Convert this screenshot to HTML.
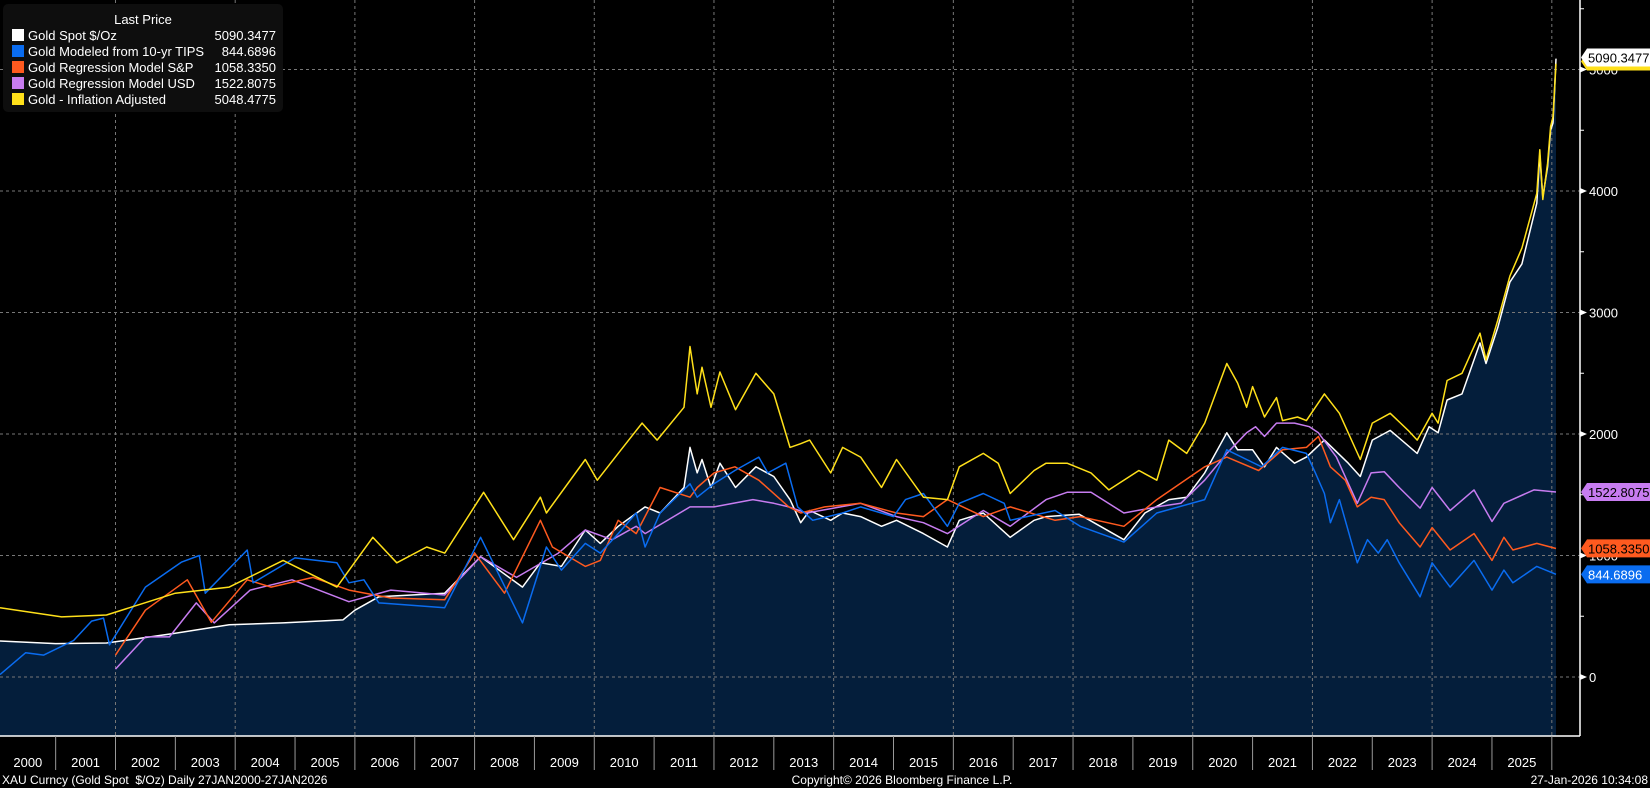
<!DOCTYPE html>
<html><head><meta charset="utf-8">
<style>
html,body{margin:0;padding:0;background:#000;width:1650px;height:788px;overflow:hidden;font-family:"Liberation Sans",sans-serif}
svg{display:block}
</style></head>
<body>
<svg id="chart" width="1650" height="788" viewBox="0 0 1650 788" xmlns="http://www.w3.org/2000/svg" font-family="Liberation Sans, sans-serif">
<rect x="0" y="0" width="1650" height="788" fill="#000"/>
<g id="fill"></g><g id="grid"></g><g id="lines"></g><g id="axes"></g><g id="tags"></g>
<g id="legend">
<rect x="3" y="4" width="280" height="108" rx="5" fill="#0e0e0e"/>
<text x="143" y="24" fill="#fff" font-size="13" text-anchor="middle">Last Price</text>
</g>
<text x="2" y="784" fill="#fff" font-size="12">XAU Curncy (Gold Spot&#160;&#160;$/Oz) Daily 27JAN2000-27JAN2026</text>
<text x="902" y="784" fill="#fff" font-size="12" text-anchor="middle">Copyright© 2026 Bloomberg Finance L.P.</text>
<text x="1648" y="784" fill="#fff" font-size="12" text-anchor="end">27-Jan-2026 10:34:08</text>
</svg>
<script>
const NS='http://www.w3.org/2000/svg';
const spotDates=[2000.07,2001.0,2001.85,2003.0,2003.9,2004.8,2005.8,2006.0,2006.4,2007.5,2008.1,2008.8,2009.1,2009.45,2009.85,2010.1,2010.4,2010.85,2011.1,2011.5,2011.6,2011.72,2011.8,2011.95,2012.1,2012.36,2012.7,2013.0,2013.27,2013.45,2013.6,2013.95,2014.15,2014.45,2014.8,2015.05,2015.5,2015.9,2016.1,2016.5,2016.95,2017.35,2017.55,2018.1,2018.85,2019.2,2019.6,2019.9,2020.2,2020.57,2020.75,2021.0,2021.2,2021.4,2021.7,2021.9,2022.2,2022.6,2022.8,2023.0,2023.3,2023.75,2023.95,2024.1,2024.25,2024.5,2024.8,2024.9,2025.1,2025.3,2025.5,2025.75,2025.8,2025.85,2025.93,2025.98,2026.02,2026.07];
const spotValues=[296,275,280,360,430,445,470,550,660,690,990,740,940,910,1210,1100,1240,1400,1350,1560,1890,1680,1790,1560,1760,1560,1730,1650,1460,1270,1370,1290,1350,1320,1240,1290,1180,1070,1290,1350,1150,1290,1320,1340,1130,1350,1460,1480,1680,2010,1870,1870,1730,1890,1760,1810,1950,1760,1650,1950,2030,1840,2060,2010,2280,2330,2750,2580,2880,3250,3400,3900,4300,3950,4200,4500,4560,5090];
const tipsDates=[2000.07,2000.5,2000.8,2001.3,2001.6,2001.8,2001.9,2002.5,2003.1,2003.4,2003.5,2004.2,2004.3,2005.0,2005.7,2005.9,2006.15,2006.4,2007.5,2008.1,2008.8,2009.2,2009.45,2009.85,2010.1,2010.4,2010.7,2010.85,2011.1,2011.6,2011.72,2012.0,2012.35,2012.75,2012.9,2013.2,2013.4,2013.65,2014.15,2014.45,2015.0,2015.2,2015.5,2015.9,2016.1,2016.5,2016.85,2016.95,2017.7,2018.12,2018.85,2019.4,2020.2,2020.57,2020.9,2021.15,2021.5,2021.9,2022.05,2022.2,2022.3,2022.45,2022.75,2022.92,2023.1,2023.25,2023.45,2023.8,2024.0,2024.3,2024.7,2025.0,2025.2,2025.35,2025.75,2026.07];
const tipsValues=[20,200,180,300,460,485,265,740,945,1000,690,1045,775,980,940,775,800,610,570,1150,445,1070,880,1100,1020,1180,1350,1070,1350,1590,1480,1590,1700,1810,1680,1760,1400,1290,1350,1400,1320,1460,1510,1240,1430,1510,1430,1290,1370,1240,1110,1350,1460,1870,1790,1730,1890,1840,1680,1510,1270,1460,940,1130,1020,1130,940,660,940,740,960,715,880,775,910,845];
const spxDates=[2002.0,2002.5,2003.2,2003.6,2004.2,2004.6,2005.3,2005.9,2006.6,2007.5,2008.0,2008.5,2009.1,2009.3,2009.85,2010.1,2010.4,2010.7,2011.1,2011.6,2011.72,2012.0,2012.35,2012.75,2013.25,2013.45,2013.85,2014.45,2015.05,2015.5,2015.9,2016.5,2016.95,2017.7,2018.12,2018.85,2019.4,2020.2,2020.57,2021.1,2021.5,2021.9,2022.1,2022.3,2022.55,2022.75,2022.98,2023.2,2023.45,2023.8,2024.0,2024.3,2024.7,2025.0,2025.2,2025.35,2025.75,2026.07];
const spxValues=[180,550,800,450,800,740,820,715,650,635,1020,690,1290,1070,910,960,1290,1180,1560,1480,1560,1680,1730,1620,1400,1350,1400,1430,1350,1320,1460,1320,1400,1290,1320,1240,1460,1730,1810,1700,1870,1890,1980,1730,1620,1400,1480,1460,1270,1070,1230,1045,1180,960,1150,1045,1100,1058];
const usdDates=[2002.0,2002.5,2002.9,2003.35,2003.65,2004.25,2004.95,2005.9,2006.6,2007.5,2008.1,2008.7,2009.4,2009.85,2010.3,2010.7,2010.85,2011.6,2012.0,2012.65,2013.0,2013.25,2013.55,2014.45,2015.05,2015.5,2015.9,2016.5,2016.95,2017.55,2017.9,2018.3,2018.85,2019.4,2019.8,2020.2,2020.57,2020.9,2021.05,2021.2,2021.4,2021.7,2021.95,2022.1,2022.4,2022.75,2022.98,2023.2,2023.45,2023.8,2024.0,2024.3,2024.7,2025.0,2025.2,2025.7,2026.07];
const usdValues=[65,330,330,610,445,715,800,620,715,675,990,820,1020,1210,1130,1240,1180,1400,1400,1460,1430,1400,1350,1430,1320,1270,1180,1370,1240,1460,1520,1520,1350,1400,1430,1620,1840,2010,2060,1980,2090,2090,2060,2010,1810,1430,1680,1690,1560,1390,1560,1370,1540,1280,1430,1540,1523];
const inflDates=[2000.07,2001.1,2001.85,2003.0,2003.9,2004.8,2005.7,2006.3,2006.7,2007.2,2007.5,2008.15,2008.65,2009.1,2009.2,2009.85,2010.05,2010.4,2010.8,2011.05,2011.5,2011.6,2011.72,2011.8,2011.95,2012.1,2012.36,2012.7,2013.0,2013.27,2013.45,2013.6,2013.95,2014.15,2014.45,2014.8,2015.05,2015.5,2015.9,2016.1,2016.5,2016.75,2016.95,2017.35,2017.55,2017.9,2018.3,2018.6,2019.1,2019.4,2019.6,2019.9,2020.2,2020.57,2020.75,2020.9,2021.0,2021.2,2021.4,2021.5,2021.75,2021.9,2022.2,2022.45,2022.8,2023.0,2023.3,2023.6,2023.75,2024.0,2024.1,2024.25,2024.5,2024.8,2024.9,2025.1,2025.3,2025.5,2025.75,2025.8,2025.85,2025.93,2025.98,2026.02,2026.07];
const inflValues=[570,495,510,690,740,960,740,1150,940,1070,1020,1520,1130,1480,1350,1790,1620,1840,2090,1950,2220,2720,2330,2550,2220,2510,2200,2500,2330,1890,1920,1950,1680,1890,1810,1560,1790,1480,1460,1730,1840,1760,1510,1700,1760,1760,1680,1540,1700,1620,1950,1840,2090,2580,2420,2220,2390,2140,2300,2110,2140,2110,2330,2170,1790,2090,2170,2030,1950,2170,2090,2440,2500,2830,2610,2940,3300,3530,3980,4340,3930,4230,4530,4610,5048];

const X0=0,X1=1556,T0=2000.07,T1=2026.07,Y0=677,PX=0.1215,AXY=736,AXX=1580;
function xs(t){return X0+(t-T0)/(T1-T0)*(X1-X0);}
function ys(v){return Y0-v*PX;}
function el(tag,attrs,parent){const e=document.createElementNS(NS,tag);for(const k in attrs)e.setAttribute(k,attrs[k]);parent.appendChild(e);return e;}
const gFill=document.getElementById('fill'),gGrid=document.getElementById('grid'),gLines=document.getElementById('lines'),gAxes=document.getElementById('axes'),gTags=document.getElementById('tags'),gLeg=document.getElementById('legend');

let d='M'+xs(spotDates[0])+','+AXY;
spotDates.forEach((t,i)=>{d+=' L'+xs(t).toFixed(1)+','+ys(spotValues[i]).toFixed(1);});
d+=' L'+xs(spotDates[spotDates.length-1])+','+AXY+' Z';
const fp=el('path',{d:d,fill:'#041e3b'},gFill);



const yTicks=[0,1000,2000,3000,4000,5000];
yTicks.forEach(v=>{const l=el('line',{x1:0,x2:AXX,y1:ys(v),y2:ys(v),stroke:'#777','stroke-width':1,'stroke-dasharray':'3,3'},gGrid);

});
const years=[];for(let y=2000;y<=2025;y++)years.push(y);
[2002,2004,2006,2008,2010,2012,2014,2016,2018,2020,2022,2024,2026].forEach(y=>{const x=xs(y);const l=el('line',{x1:x,x2:x,y1:0,y2:AXY,stroke:'#777','stroke-width':1,'stroke-dasharray':'3,3'},gGrid);

});

const series=[
 {name:'spot-line',dates:spotDates,vals:spotValues,color:'#ffffff'},
 {name:'usd-model-line',dates:usdDates,vals:usdValues,color:'#c77cf0'},
 {name:'sp-model-line',dates:spxDates,vals:spxValues,color:'#ff5a1f'},
 {name:'tips-model-line',dates:tipsDates,vals:tipsValues,color:'#0a6cf0'},
 {name:'inflation-adjusted-line',dates:inflDates,vals:inflValues,color:'#ffe01a'}];
series.forEach(s=>{const pts=s.dates.map((t,i)=>xs(t).toFixed(1)+','+ys(s.vals[i]).toFixed(1)).join(' ');
 const p=el('polyline',{points:pts,fill:'none',stroke:s.color,'stroke-width':1.5,'stroke-linejoin':'round'},gLines);
 
 });

const ax=el('line',{x1:0,x2:AXX,y1:AXY,y2:AXY,stroke:'#fff','stroke-width':1.5},gAxes);


const ay=el('line',{x1:AXX,x2:AXX,y1:0,y2:AXY,stroke:'#fff','stroke-width':1.5},gAxes);


for(let v=500;v<=5500;v+=1000){const t=el('line',{x1:AXX,x2:AXX+4,y1:ys(v),y2:ys(v),stroke:'#fff'},gAxes);
 
 }
yTicks.forEach(v=>{const y=ys(v);
 const tr=el('polygon',{points:(AXX)+','+(y-3)+' '+(AXX+7)+','+y+' '+(AXX)+','+(y+3),fill:'#fff'},gAxes);
 
 
 const tx=el('text',{x:AXX+9,y:y+5,fill:'#fff','font-size':13},gAxes);tx.textContent=String(v);
 
 });
years.forEach(yr=>{const xa=Math.max(0,xs(yr)),xb=xs(yr+1);
 const sep=el('line',{x1:xb,x2:xb,y1:AXY,y2:770,stroke:'#999'},gAxes);
 
 
 const tx=el('text',{x:(xa+xb)/2,y:767,fill:'#fff','font-size':13,'text-anchor':'middle'},gAxes);tx.textContent=String(yr);
 
 });

// yellow tag strip (hidden behind spot tag)
const yTagY=ys(5090.3477)+3;
const ystrip=el('polygon',{points:(AXX+1)+','+yTagY+' '+(AXX+7)+','+(yTagY-9)+' 1650,'+(yTagY-9)+' 1650,'+(yTagY+9)+' '+(AXX+7)+','+(yTagY+9),fill:'#ffe01a'},gTags);



const tagNames=['5090.3477','1522.8075','1058.3350','844.6896'];
const tagVals=[5090.3477,1522.8075,1058.3350,844.6896];
const tagBg=['#ffffff','#c77cf0','#ff5a1f','#0a6cf0'];
const tagFg=['#000','#000','#000','#fff'];
tagVals.forEach((v,i)=>{let y=ys(v);if(i===0)y-=1;
 const pg=el('polygon',{points:(AXX+1)+','+y+' '+(AXX+7)+','+(y-9)+' 1650,'+(y-9)+' 1650,'+(y+9)+' '+(AXX+7)+','+(y+9),fill:tagBg[i]},gTags);
 
 
 const tx=el('text',{x:AXX+8,y:y+5,fill:tagFg[i],'font-size':13},gTags);tx.textContent=tagNames[i];
 
 });

const legNames=['Gold Spot $/Oz','Gold Modeled from 10-yr TIPS','Gold Regression Model S&P','Gold Regression Model USD','Gold - Inflation Adjusted'];
const legVals=['5090.3477','844.6896','1058.3350','1522.8075','5048.4775'];
const legColors=['#ffffff','#0a6cf0','#ff5a1f','#c77cf0','#ffe01a'];
legNames.forEach((n,i)=>{const y=35+i*16;
 const sw=el('rect',{x:12,y:y-6,width:12,height:12,fill:legColors[i]},gLeg);
 
 
 const t=el('text',{x:28,y:y+5,fill:'#fff','font-size':13},gLeg);t.textContent=n;
 
 
 const v=el('text',{x:276,y:y+5,fill:'#fff','font-size':13,'text-anchor':'end'},gLeg);v.textContent=legVals[i];
 
 });
</script>
</body></html>
